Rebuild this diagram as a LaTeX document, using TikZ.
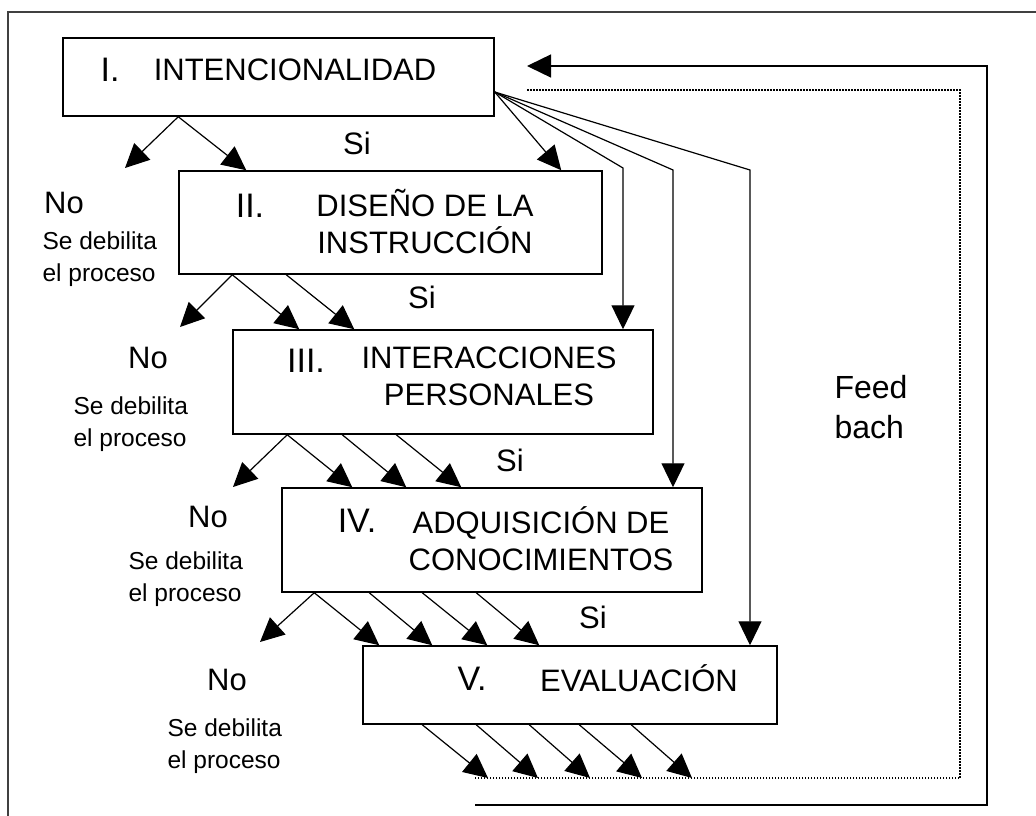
\documentclass[tikz,border=0pt]{standalone}
\usepackage{fontspec}
\setmainfont{Liberation Sans}
\usetikzlibrary{arrows.meta}

\begin{document}
\begin{tikzpicture}[x=1pt,y=-1pt,
    box/.style={draw,line width=1.5pt,inner sep=0pt},
    numtext/.style={font=\fontsize{34}{40}\selectfont},
    boxtext/.style={font=\fontsize{31}{37}\selectfont,align=center},
    notext/.style={font=\fontsize{31}{36}\selectfont},
    weaktext/.style={font=\fontsize{24.5}{32}\selectfont,align=left,anchor=west},
    arr/.style={line width=1.2pt,-{Triangle[length=24pt,width=23pt]}}]

            \useasboundingbox (0,0) rectangle (1036,816);

            % Outer frame (top and left)
            \draw[line width=2pt,black!75] (8,816) -- (8,12) -- (1036,12);

            % The five stages
            \node[box,minimum width=431pt,minimum height=78pt] (int) at (278.5,77) {}; % I
            \node[box,minimum width=423pt,minimum height=103pt] (dis) at (390.5,222.5) {}; % II
            \node[box,minimum width=420pt,minimum height=104pt] (inter) at (443,382) {}; % III
            \node[box,minimum width=420pt,minimum height=104pt] (adq) at (492,540) {}; % IV
            \node[box,minimum width=414pt,minimum height=78pt] (eva) at (570,685) {}; % V

            % Stage texts
            \node[numtext] (n1) at (110,70) {I.};
            \node[boxtext] (t1) at (295,70) {INTENCIONALIDAD};
            \node[numtext] (n2) at (250,206) {II.};
            \node[boxtext] (t2) at (425,222) {DISEÑO DE LA\\INSTRUCCIÓN};
            \node[numtext] (n3) at (306,361) {III.};
            \node[boxtext] (t3) at (489,376) {INTERACCIONES\\PERSONALES};
            \node[numtext] (n4) at (357,521) {IV.};
            \node[boxtext] (t4) at (541,539) {ADQUISICIÓN DE\\CONOCIMIENTOS};
            \node[numtext] (n5) at (472,679) {V.};
            \node[boxtext] (t5) at (639,678) {EVALUACIÓN};

            % Si labels
            \node[notext] (si1) at (357,143) {Si};
            \node[notext] (si2) at (422,297) {Si};
            \node[notext] (si3) at (510,460) {Si};
            \node[notext] (si4) at (593,617) {Si};

            % No labels
            \node[notext] (no1) at (64,203) {No};
            \node[weaktext] (w1) at (39,259) {Se debilita\\el proceso};
            \node[notext] (no2) at (148,358) {No};
            \node[weaktext] (w2) at (70,424) {Se debilita\\el proceso};
            \node[notext] (no3) at (208,517) {No};
            \node[weaktext] (w3) at (125,579) {Se debilita\\el proceso};
            \node[notext] (no4) at (227,680) {No};
            \node[weaktext] (w4) at (164,746) {Se debilita\\el proceso};

            % Feedback label
            \node[font=\fontsize{32}{40}\selectfont,align=left,anchor=west] (fb) at (831,407) {Feed\\bach};

            % Free ends of the arrows
            \coordinate (d1) at (125,168);
            \coordinate (d2) at (180,327);
            \coordinate (d3) at (233,487);
            \coordinate (d4) at (260,642);
            \coordinate (k3) at (623,168);
            \coordinate (k4) at (673,170);
            \coordinate (k5) at (750,170);
            \coordinate (fan) at ([yshift=-15pt]int.east);

            % From I
            \draw[arr] ([xshift=116pt]int.south west) -- (d1); % No
            \draw[arr] ([xshift=116pt]int.south west) -- ([xshift=68pt]dis.north west); % Si
            \draw[arr] (fan) -- ([xshift=383pt]dis.north west);
            \draw[arr] (fan) -- (k3) -- (k3 |- inter.north);
            \draw[arr] (fan) -- (k4) -- (k4 |- adq.north);
            \draw[arr] (fan) -- (k5) -- (k5 |- eva.north);

            % From II
            \draw[arr] ([xshift=54pt]dis.south west) -- (d2); % No
            \draw[arr] ([xshift=54pt]dis.south west) -- ([xshift=67pt]inter.north west);
            \draw[arr] ([xshift=108pt]dis.south west) -- ([xshift=122pt]inter.north west);

            % From III
            \draw[arr] ([xshift=55pt]inter.south west) -- (d3); % No
            \draw[arr] ([xshift=55pt]inter.south west) -- ([xshift=71pt]adq.north west);
            \draw[arr] ([xshift=110pt]inter.south west) -- ([xshift=125pt]adq.north west);
            \draw[arr] ([xshift=164pt]inter.south west) -- ([xshift=180pt]adq.north west);

            % From IV
            \draw[arr] ([xshift=33pt]adq.south west) -- (d4); % No
            \draw[arr] ([xshift=33pt]adq.south west) -- ([xshift=17pt]eva.north west);
            \draw[arr] ([xshift=88pt]adq.south west) -- ([xshift=70pt]eva.north west);
            \draw[arr] ([xshift=141pt]adq.south west) -- ([xshift=125pt]eva.north west);
            \draw[arr] ([xshift=195pt]adq.south west) -- ([xshift=177pt]eva.north west);

            % From V
            \coordinate (e1) at (488,778);
            \coordinate (e2) at (538,778);
            \coordinate (e3) at (590,778);
            \coordinate (e4) at (642,778);
            \coordinate (e5) at (692,778);
            \draw[arr] ([xshift=60pt]eva.south west) -- (e1);
            \draw[arr] ([xshift=114pt]eva.south west) -- (e2);
            \draw[arr] ([xshift=167pt]eva.south west) -- (e3);
            \draw[arr] ([xshift=217pt]eva.south west) -- (e4);
            \draw[arr] ([xshift=269pt]eva.south west) -- (e5);

            % Dotted return path
            \draw[dash pattern=on 1.5pt off 1.5pt,line width=1.5pt] (527,90) -- (960,90) -- (960,778) -- (473,778);

            % Feedback line back to I
            \coordinate (fb1) at (475,805);
            \coordinate (fb2) at (987,805);
            \coordinate (fb3) at (987,66);
            \coordinate (fb4) at (527,66);
            \draw[arr,line width=1.4pt] (fb1) -- (fb2) -- (fb3) -- (fb4);
        \end{tikzpicture}
\end{document}
